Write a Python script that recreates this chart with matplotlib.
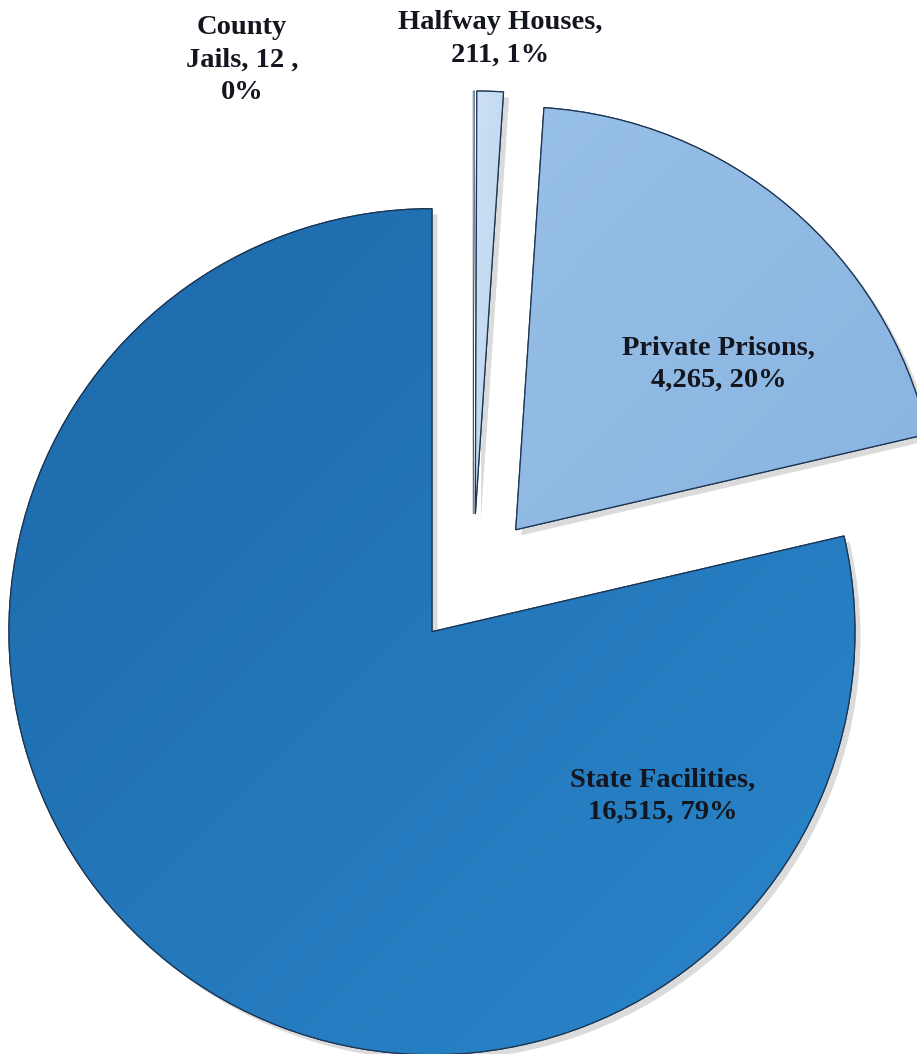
import numpy as np
import matplotlib
matplotlib.use("Agg")
import matplotlib.pyplot as plt
import matplotlib.patheffects as pe
from matplotlib.patches import PathPatch
from matplotlib.colors import LinearSegmentedColormap

# data
names = ["County Jails", "Halfway Houses", "Private Prisons", "State Facilities"]
counts = [12, 211, 4265, 16515]
pcts = ["0%", "1%", "20%", "79%"]
label_text = ["County\nJails, 12 ,\n0%",
              "Halfway Houses,\n211, 1%",
              "Private Prisons,\n4,265, 20%",
              "State Facilities,\n16,515, 79%"]

W, H = 917, 1054
CENTER = (473, H - 580)
RADIUS = 423
EXPLODE = 66          # pie() offsets by this many data units (= pixels here)
# colour pairs (top-left, bottom-right) for a soft gradient per slice
GRAD = [("#c9def2", "#b5d1ec"),
        ("#cfe2f4", "#b6d2ee"),
        ("#98c0e8", "#88b4e0"),
        ("#1d69aa", "#2a86cb")]
EDGE = "#1b3553"
EDGE_W = [0.3, 0.9, 0.9, 0.9]
TEXT_C = "#14161f"
# label centres in pixel coords (x, y from top)
LABEL_POS = [(242, 60), (500, 39), (719, 364), (663, 796)]

fig = plt.figure(figsize=(W / 100, H / 100), dpi=100, facecolor="white")
ax = fig.add_axes([0, 0, 1, 1])

wedges, _ = ax.pie(counts, radius=RADIUS, center=CENTER, startangle=90,
                   counterclock=False, explode=[EXPLODE] * len(counts),
                   colors=[g[1] for g in GRAD], frame=True,
                   wedgeprops=dict(edgecolor=EDGE, linewidth=0.9))
ax.set_xlim(0, W)
ax.set_ylim(0, H)
ax.set_aspect("equal")
ax.axis("off")

for w, (c0, c1), lw in zip(wedges, GRAD, EDGE_W):
    w.set_linewidth(lw)
    w.set_path_effects([pe.SimplePatchShadow(offset=(4, -4), shadow_rgbFace="#888888",
                                             alpha=0.3), pe.Normal()])
    cmap = LinearSegmentedColormap.from_list("g", [c0, c1])
    grad = np.add.outer(np.linspace(0, 1, 200), np.linspace(0, 1, 200)) / 2
    bb = w.get_path().get_extents(w.get_patch_transform())
    im = ax.imshow(grad, cmap=cmap, extent=(bb.x0, bb.x1, bb.y0, bb.y1),
                   origin="upper", zorder=w.get_zorder() + 0.1, aspect="auto",
                   interpolation="bilinear")
    im.set_clip_path(w)
    # outline again on top of the gradient
    path = w.get_patch_transform().transform_path(w.get_path())
    ax.add_patch(PathPatch(path, fill=False, edgecolor=EDGE, lw=lw,
                           zorder=w.get_zorder() + 0.2))

for txt, (x, y) in zip(label_text, LABEL_POS):
    ax.text(x, H - y, txt, ha="center", va="center", fontsize=20.5,
            fontweight="bold", family=["Liberation Serif", "DejaVu Serif"],
            color=TEXT_C, linespacing=1.4, zorder=10)

ax.set_xlim(0, W)
ax.set_ylim(0, H)
fig.savefig("out.png", dpi=100, facecolor="white")
